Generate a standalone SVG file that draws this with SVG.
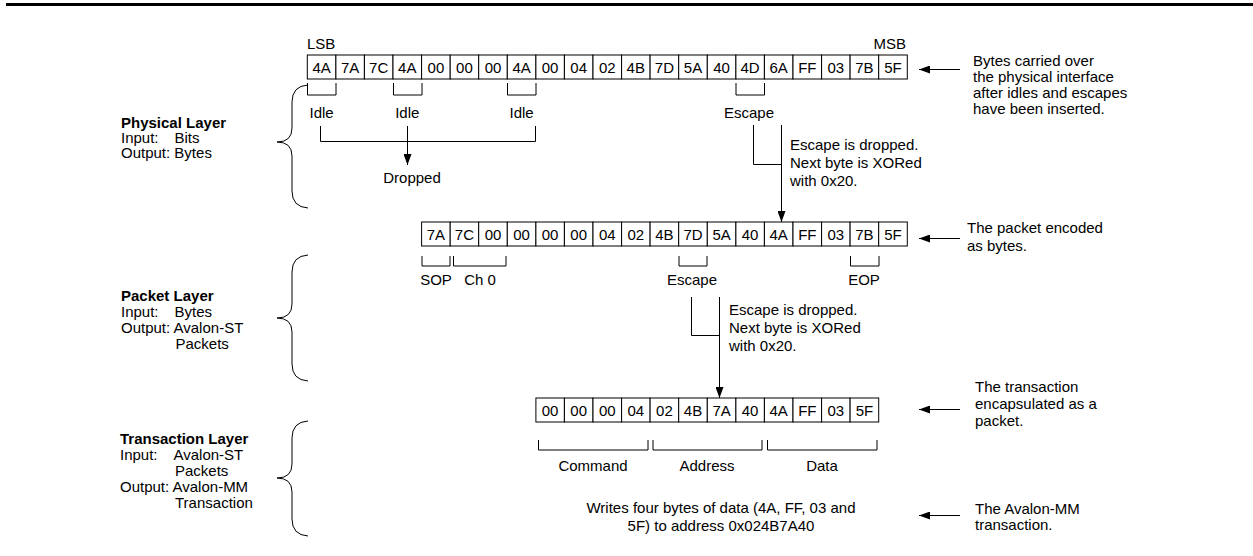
<svg xmlns="http://www.w3.org/2000/svg" width="1253" height="556" viewBox="0 0 1253 556">
<defs>
<marker id="ah" markerUnits="userSpaceOnUse" markerWidth="11" markerHeight="8" refX="11" refY="4" orient="auto">
<path d="M0,0 L11,4 L0,8 Z" fill="#000"/>
</marker>
<style>
text{font-family:"Liberation Sans",Arial,sans-serif;font-size:15px;fill:#000}
.c{text-anchor:middle}
.b{font-weight:bold}
.cell{fill:#fff;stroke:#000;stroke-width:1}
.ln{fill:none;stroke:#000;stroke-width:1}
</style>
</defs>
<rect width="1253" height="556" fill="#fff"/>
<line x1="6" y1="4.5" x2="1253" y2="4.5" stroke="#000" stroke-width="3"/>

<g id="row1">
<text x="307" y="49">LSB</text>
<text x="906" y="49" text-anchor="end">MSB</text>
<rect class="cell" x="307.3" y="55" width="28.6" height="24"/><text class="c" x="321.6" y="72.5">4A</text>
<rect class="cell" x="335.9" y="55" width="28.5" height="24"/><text class="c" x="350.1" y="72.5">7A</text>
<rect class="cell" x="364.4" y="55" width="28.6" height="24"/><text class="c" x="378.7" y="72.5">7C</text>
<rect class="cell" x="393.0" y="55" width="28.6" height="24"/><text class="c" x="407.3" y="72.5">4A</text>
<rect class="cell" x="421.6" y="55" width="28.6" height="24"/><text class="c" x="435.9" y="72.5">00</text>
<rect class="cell" x="450.2" y="55" width="28.5" height="24"/><text class="c" x="464.4" y="72.5">00</text>
<rect class="cell" x="478.7" y="55" width="28.6" height="24"/><text class="c" x="493.0" y="72.5">00</text>
<rect class="cell" x="507.3" y="55" width="28.6" height="24"/><text class="c" x="521.6" y="72.5">4A</text>
<rect class="cell" x="535.9" y="55" width="28.5" height="24"/><text class="c" x="550.1" y="72.5">00</text>
<rect class="cell" x="564.4" y="55" width="28.6" height="24"/><text class="c" x="578.7" y="72.5">04</text>
<rect class="cell" x="593.0" y="55" width="28.6" height="24"/><text class="c" x="607.3" y="72.5">02</text>
<rect class="cell" x="621.6" y="55" width="28.5" height="24"/><text class="c" x="635.8" y="72.5">4B</text>
<rect class="cell" x="650.1" y="55" width="28.6" height="24"/><text class="c" x="664.4" y="72.5">7D</text>
<rect class="cell" x="678.7" y="55" width="28.6" height="24"/><text class="c" x="693.0" y="72.5">5A</text>
<rect class="cell" x="707.3" y="55" width="28.6" height="24"/><text class="c" x="721.6" y="72.5">40</text>
<rect class="cell" x="735.9" y="55" width="28.5" height="24"/><text class="c" x="750.1" y="72.5">4D</text>
<rect class="cell" x="764.4" y="55" width="28.6" height="24"/><text class="c" x="778.7" y="72.5">6A</text>
<rect class="cell" x="793.0" y="55" width="28.6" height="24"/><text class="c" x="807.3" y="72.5">FF</text>
<rect class="cell" x="821.6" y="55" width="28.5" height="24"/><text class="c" x="835.8" y="72.5">03</text>
<rect class="cell" x="850.1" y="55" width="28.6" height="24"/><text class="c" x="864.4" y="72.5">7B</text>
<rect class="cell" x="878.7" y="55" width="28.6" height="24"/><text class="c" x="893.0" y="72.5">5F</text>
</g>

<g id="row1-marks">
<path class="ln" d="M307.5,83 V95 H336 V83"/>
<path class="ln" d="M393.5,83 V95 H422 V83"/>
<path class="ln" d="M507.5,83 V95 H536 V83"/>
<path class="ln" d="M736,83 V95 H764.5 V83"/>
<text class="c" x="321.6" y="118">Idle</text>
<text class="c" x="407.3" y="118">Idle</text>
<text class="c" x="521.6" y="118">Idle</text>
<text class="c" x="749" y="118">Escape</text>
<text class="c" x="412" y="183">Dropped</text>
</g>

<g id="row2">
<rect class="cell" x="421.6" y="222" width="28.6" height="24"/><text class="c" x="435.9" y="239.5">7A</text>
<rect class="cell" x="450.2" y="222" width="28.5" height="24"/><text class="c" x="464.4" y="239.5">7C</text>
<rect class="cell" x="478.7" y="222" width="28.6" height="24"/><text class="c" x="493.0" y="239.5">00</text>
<rect class="cell" x="507.3" y="222" width="28.6" height="24"/><text class="c" x="521.6" y="239.5">00</text>
<rect class="cell" x="535.9" y="222" width="28.5" height="24"/><text class="c" x="550.1" y="239.5">00</text>
<rect class="cell" x="564.4" y="222" width="28.6" height="24"/><text class="c" x="578.7" y="239.5">00</text>
<rect class="cell" x="593.0" y="222" width="28.6" height="24"/><text class="c" x="607.3" y="239.5">04</text>
<rect class="cell" x="621.6" y="222" width="28.5" height="24"/><text class="c" x="635.8" y="239.5">02</text>
<rect class="cell" x="650.1" y="222" width="28.6" height="24"/><text class="c" x="664.4" y="239.5">4B</text>
<rect class="cell" x="678.7" y="222" width="28.6" height="24"/><text class="c" x="693.0" y="239.5">7D</text>
<rect class="cell" x="707.3" y="222" width="28.6" height="24"/><text class="c" x="721.6" y="239.5">5A</text>
<rect class="cell" x="735.9" y="222" width="28.5" height="24"/><text class="c" x="750.1" y="239.5">40</text>
<rect class="cell" x="764.4" y="222" width="28.6" height="24"/><text class="c" x="778.7" y="239.5">4A</text>
<rect class="cell" x="793.0" y="222" width="28.6" height="24"/><text class="c" x="807.3" y="239.5">FF</text>
<rect class="cell" x="821.6" y="222" width="28.5" height="24"/><text class="c" x="835.8" y="239.5">03</text>
<rect class="cell" x="850.1" y="222" width="28.6" height="24"/><text class="c" x="864.4" y="239.5">7B</text>
<rect class="cell" x="878.7" y="222" width="28.6" height="24"/><text class="c" x="893.0" y="239.5">5F</text>
</g>

<g id="row2-marks">
<path class="ln" d="M422,256 V266 H450 V256"/>
<path class="ln" d="M453.5,256 V266 H506 V256"/>
<path class="ln" d="M679,256 V266 H707 V256"/>
<path class="ln" d="M850.5,256 V266 H879 V256"/>
<text class="c" x="436" y="285">SOP</text>
<text class="c" x="480" y="285">Ch 0</text>
<text class="c" x="692" y="285">Escape</text>
<text class="c" x="864" y="285">EOP</text>
</g>

<g id="row3">
<rect class="cell" x="535.9" y="398" width="28.5" height="24"/><text class="c" x="550.1" y="415.5">00</text>
<rect class="cell" x="564.4" y="398" width="28.6" height="24"/><text class="c" x="578.7" y="415.5">00</text>
<rect class="cell" x="593.0" y="398" width="28.6" height="24"/><text class="c" x="607.3" y="415.5">00</text>
<rect class="cell" x="621.6" y="398" width="28.5" height="24"/><text class="c" x="635.8" y="415.5">04</text>
<rect class="cell" x="650.1" y="398" width="28.6" height="24"/><text class="c" x="664.4" y="415.5">02</text>
<rect class="cell" x="678.7" y="398" width="28.6" height="24"/><text class="c" x="693.0" y="415.5">4B</text>
<rect class="cell" x="707.3" y="398" width="28.6" height="24"/><text class="c" x="721.6" y="415.5">7A</text>
<rect class="cell" x="735.9" y="398" width="28.5" height="24"/><text class="c" x="750.1" y="415.5">40</text>
<rect class="cell" x="764.4" y="398" width="28.6" height="24"/><text class="c" x="778.7" y="415.5">4A</text>
<rect class="cell" x="793.0" y="398" width="28.6" height="24"/><text class="c" x="807.3" y="415.5">FF</text>
<rect class="cell" x="821.6" y="398" width="28.5" height="24"/><text class="c" x="835.8" y="415.5">03</text>
<rect class="cell" x="850.1" y="398" width="28.6" height="24"/><text class="c" x="864.4" y="415.5">5F</text>
</g>

<g id="row3-marks">
<path class="ln" d="M538.5,440 V450 H648 V440"/>
<path class="ln" d="M653,440 V450 H762 V440"/>
<path class="ln" d="M767.5,440 V450 H877 V440"/>
<text class="c" x="593" y="471">Command</text>
<text class="c" x="707" y="471">Address</text>
<text class="c" x="822" y="471">Data</text>
<text class="c" x="721" y="513">Writes four bytes of data (4A, FF, 03 and</text>
<text class="c" x="721" y="531">5F) to address 0x024B7A40</text>
</g>

<g id="connectors">
<path class="ln" d="M320.5,126 V141.5 H535.5 V126"/>
<line class="ln" x1="407.5" y1="126" x2="407.5" y2="165" marker-end="url(#ah)"/>
<path class="ln" d="M753.5,125 V164.5 H781.5"/>
<line class="ln" x1="781.5" y1="125" x2="781.5" y2="222" marker-end="url(#ah)"/>
<path class="ln" d="M691.5,297 V335.5 H719.5"/>
<line class="ln" x1="719.5" y1="297" x2="719.5" y2="398" marker-end="url(#ah)"/>
<line class="ln" x1="960" y1="69.5" x2="919" y2="69.5" marker-end="url(#ah)"/>
<line class="ln" x1="960" y1="238.5" x2="919" y2="238.5" marker-end="url(#ah)"/>
<line class="ln" x1="960" y1="409.5" x2="919" y2="409.5" marker-end="url(#ah)"/>
<line class="ln" x1="960" y1="515.5" x2="919" y2="515.5" marker-end="url(#ah)"/>
</g>

<g id="escape-notes">
<text x="790" y="150">Escape is dropped.</text>
<text x="790" y="168">Next byte is XORed</text>
<text x="790" y="186">with 0x20.</text>
<text x="729" y="315">Escape is dropped.</text>
<text x="729" y="333">Next byte is XORed</text>
<text x="729" y="351">with 0x20.</text>
</g>

<g id="notes">
<text x="973" y="65.5">Bytes carried over</text>
<text x="973" y="81.5">the physical interface</text>
<text x="973" y="97.5">after idles and escapes</text>
<text x="973" y="113.5">have been inserted.</text>
<text x="967" y="232.5">The packet encoded</text>
<text x="967" y="250.5">as bytes.</text>
<text x="975" y="392">The transaction</text>
<text x="975" y="409">encapsulated as a</text>
<text x="975" y="426">packet.</text>
<text x="975" y="513.5">The Avalon-MM</text>
<text x="975" y="529.5">transaction.</text>
</g>

<g id="physical-layer">
<path class="ln" d="M308,85 Q292,86 292,102 V128 Q292,142 277,142 Q292,142 292,156 V191 Q292,207 308,208"/>
<text class="b" x="121" y="128">Physical Layer</text>
<text x="121" y="143">Input:</text><text x="174.5" y="143">Bits</text>
<text x="121" y="158">Output: Bytes</text>
</g>

<g id="packet-layer">
<path class="ln" d="M308,255 Q292,256 292,272 V304 Q292,318 277,318 Q292,318 292,332 V364 Q292,380 308,381"/>
<text class="b" x="121" y="301">Packet Layer</text>
<text x="121" y="317">Input:</text><text x="174.5" y="317">Bytes</text>
<text x="121" y="333">Output: Avalon-ST</text>
<text x="175.5" y="349">Packets</text>
</g>

<g id="transaction-layer">
<path class="ln" d="M308,421 Q292,422 292,438 V464 Q292,478 277,478 Q292,478 292,492 V519 Q292,535 308,536"/>
<text class="b" x="120" y="444">Transaction Layer</text>
<text x="120" y="460">Input:</text><text x="173.5" y="460">Avalon-ST</text>
<text x="175" y="476">Packets</text>
<text x="120" y="492">Output: Avalon-MM</text>
<text x="175" y="508">Transaction</text>
</g>
</svg>
